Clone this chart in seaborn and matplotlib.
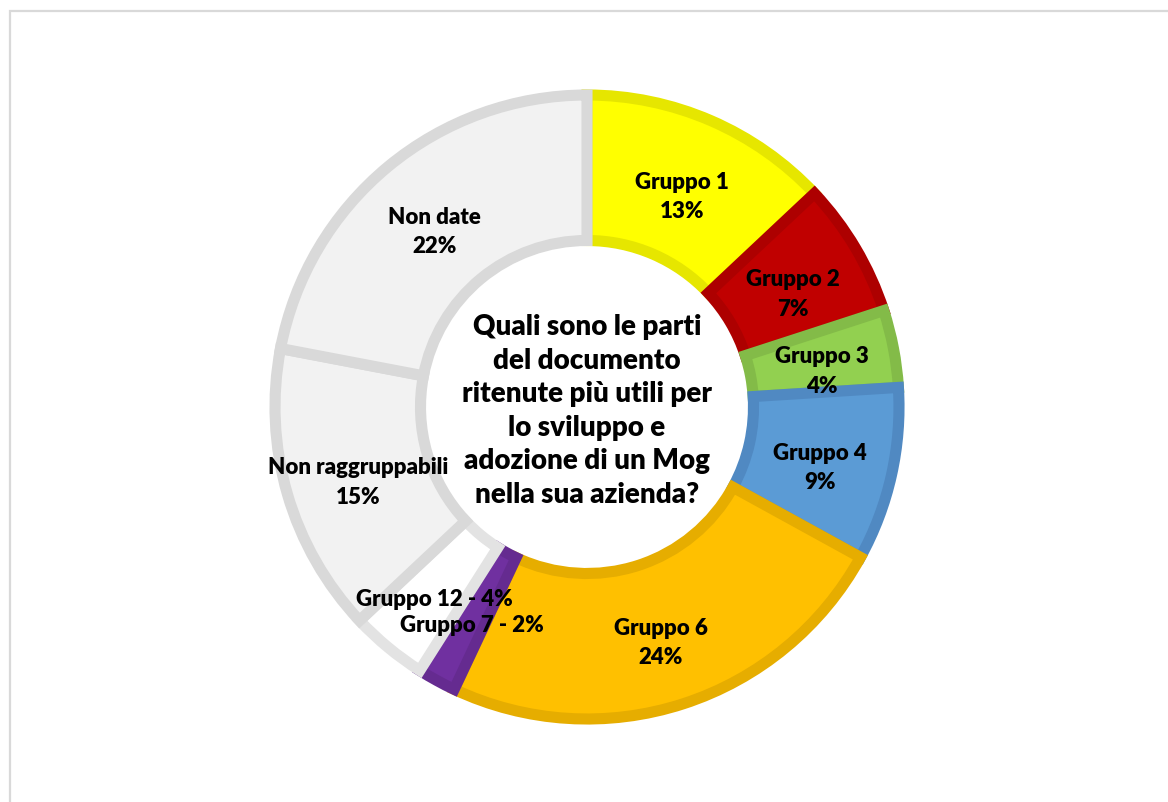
import matplotlib
matplotlib.use("Agg")
import matplotlib.pyplot as plt
from matplotlib.patches import Rectangle
import numpy as np
import seaborn as sns

# Survey answers, clockwise from 12 o'clock
categories = ["Gruppo 1", "Gruppo 2", "Gruppo 3", "Gruppo 4", "Gruppo 6",
              "Gruppo 7", "Gruppo 12", "Non raggruppabili", "Non date"]
shares = [13, 7, 4, 9, 24, 2, 4, 15, 22]
inline_labels = ["Gruppo 7", "Gruppo 12"]  # small slices labelled on one line

fill_hex = ["#FFFF00", "#C00000", "#92D050", "#5B9BD5", "#FFC000",
            "#7030A0", "#FFFFFF", "#F2F2F2", "#F2F2F2"]
edge_hex = ["#E6E600", "#AD0000", "#83BB48", "#5089C2", "#E6AD00",
            "#652B90", "#E3E3E3", "#D9D9D9", "#D9D9D9"]

question = ("Quali sono le parti\ndel documento\nritenute più utili per\n"
            "lo sviluppo e\nadozione di un Mog\nnella sua azienda?")

sns.set_theme(style="white")
plt.rcParams["font.family"] = ["Lato", "DejaVu Sans"]

fills = sns.color_palette(fill_hex)
edges = sns.color_palette(edge_hex)

W, H = 1168, 803
fig = plt.figure(figsize=(W / 100, H / 100), dpi=100)
fig.patch.set_facecolor("white")

# square axes: 1 data unit = 312 px, centred on the ring centre
unit = 312
lim = 1.2
cx, cy = 587, H - 408
side = 2 * lim * unit
ax = fig.add_axes([(cx - side / 2) / W, (cy - side / 2) / H, side / W, side / H])

ring_width = 1 - 166.5 / unit
wedges, _ = ax.pie(shares, colors=fills, startangle=90, counterclock=False,
                   radius=1.0,
                   wedgeprops=dict(width=ring_width, linewidth=8))
for w, ec in zip(wedges, edges):
    w.set_edgecolor(ec)
    w.set_joinstyle("miter")

ax.set_xlim(-lim, lim)
ax.set_ylim(-lim, lim)
ax.set_aspect("equal")
ax.axis("off")

# slice labels, sitting slightly below the mid-radius point
label_r = 0.765
drop = 8 / unit
for w, cat, val in zip(wedges, categories, shares):
    ang = np.deg2rad((w.theta1 + w.theta2) / 2)
    x, y = label_r * np.cos(ang), label_r * np.sin(ang) - drop
    if cat in inline_labels:
        txt = f"{cat} - {val}%"
    else:
        txt = f"{cat}\n{val}%"
    ax.text(x, y, txt, ha="center", va="center", fontsize=16,
            fontweight="heavy", color="black", linespacing=1.5)

# question in the hole
ax.text(0, -0.01, question, ha="center", va="center", fontsize=20,
        fontweight="heavy", color="black", linespacing=1.36)

# light frame around the chart area
frame = Rectangle((10 / W, -0.2), 1.5, (H - 12) / H + 0.2,
                  transform=fig.transFigure, fill=False,
                  edgecolor="#D9D9D9", linewidth=1.6)
fig.patches.append(frame)

fig.savefig("out.png", dpi=100)
